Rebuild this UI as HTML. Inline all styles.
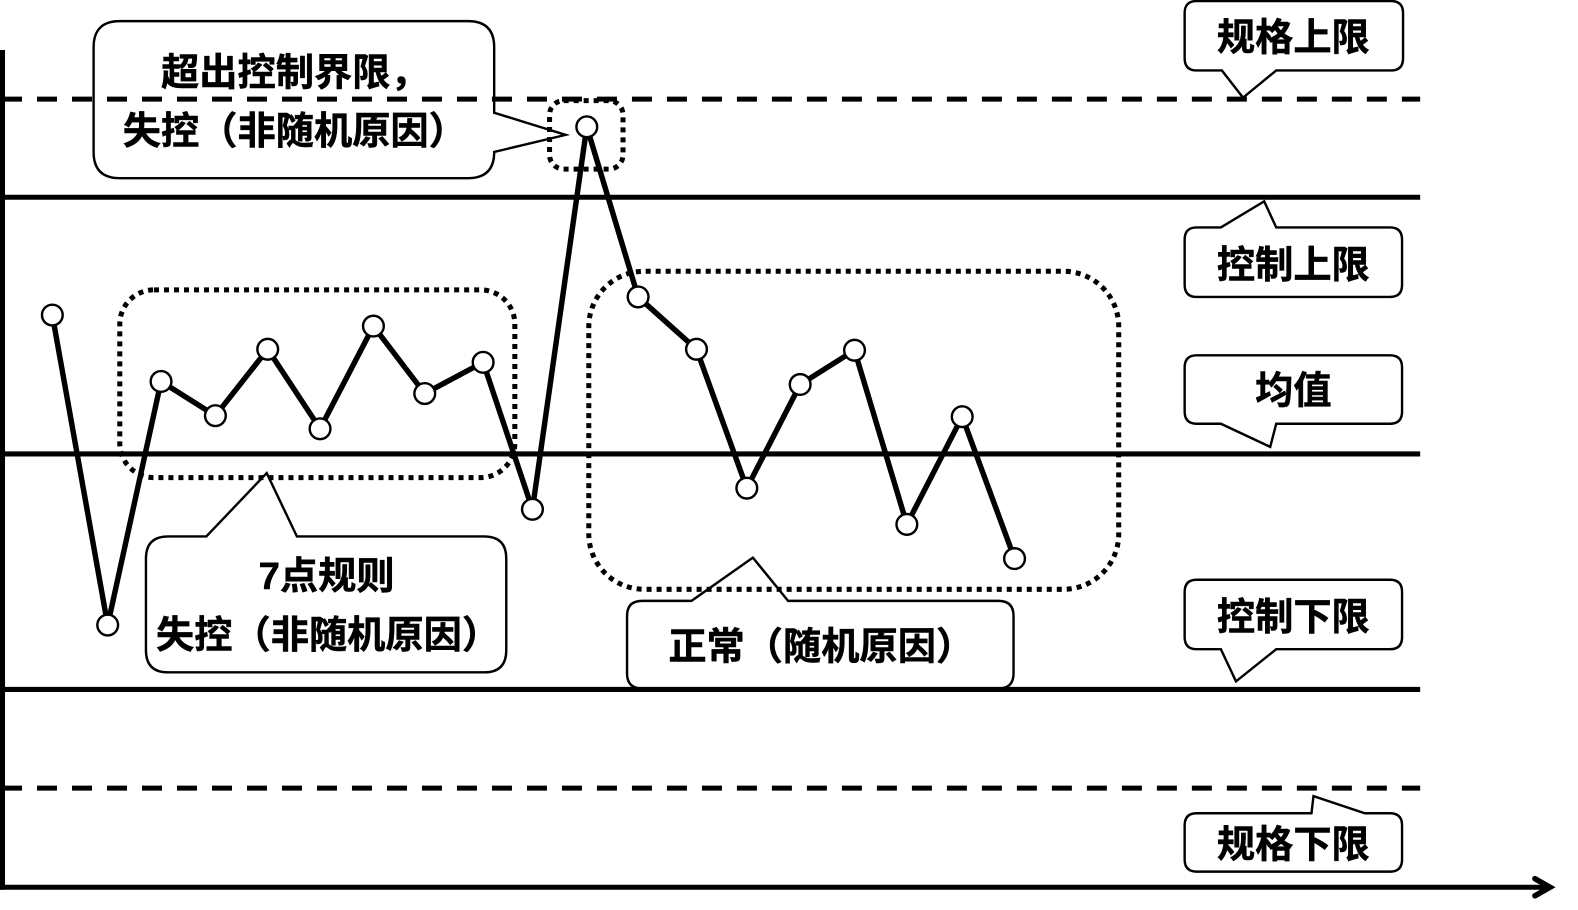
<!DOCTYPE html>
<html><head><meta charset="utf-8"><style>
html,body{margin:0;padding:0;background:#fff;width:1578px;height:910px;overflow:hidden}
svg{display:block}
text{font-family:"Liberation Sans","Noto Sans CJK SC",sans-serif;font-weight:700;fill:#000;stroke:#000;stroke-width:.5px;font-size:38px}
</style></head><body>
<svg width="1578" height="910" viewBox="0 0 1578 910">
<g transform="scale(1.0065)">
<g fill="none" stroke="#000">
<path d="M2.5 49.7V884" stroke-width="5"/>
<path d="M0 881.5H1538" stroke-width="5"/>
<path d="M1525 873L1540 881.5L1525 890" stroke-width="5.5" stroke-linecap="round" stroke-linejoin="miter"/>
<path d="M2 98.5H1411" stroke-width="5" stroke-dasharray="19.87 14.9"/>
<path d="M2 783H1411" stroke-width="5" stroke-dasharray="19.87 14.9"/>
<path d="M4 196H1411M4 451H1411M4 685H1411" stroke-width="5"/>
<rect x="119" y="288" width="392.5" height="186.5" rx="34" stroke-width="5" stroke-dasharray="4.97 4.97"/>
<rect x="585" y="269.5" width="526.5" height="316" rx="55" stroke-width="5" stroke-dasharray="4.97 4.97" stroke-dashoffset="-1.5"/>
<rect x="546" y="100" width="73" height="68" rx="14" stroke-width="5" stroke-dasharray="4.97 4.97"/>
<polyline points="52,313 107,621 160,379 214,413 266,347 318,426 371,324 422,391 480,360 529,506 583,126 634,295 692,347 742,485 795,382 849,348 901,521 956,414 1008,555" stroke-width="5.4" stroke-linejoin="round"/>
</g>
<g fill="#fff" stroke="#000" stroke-width="2.4">
<circle cx="52" cy="313" r="10.3"/><circle cx="107" cy="621" r="10.3"/><circle cx="160" cy="379" r="10.3"/><circle cx="214" cy="413" r="10.3"/><circle cx="266" cy="347" r="10.3"/><circle cx="318" cy="426" r="10.3"/><circle cx="371" cy="324" r="10.3"/><circle cx="422" cy="391" r="10.3"/><circle cx="480" cy="360" r="10.3"/><circle cx="529" cy="506" r="10.3"/><circle cx="583" cy="126" r="10.3"/><circle cx="634" cy="295" r="10.3"/><circle cx="692" cy="347" r="10.3"/><circle cx="742" cy="485" r="10.3"/><circle cx="795" cy="382" r="10.3"/><circle cx="849" cy="348" r="10.3"/><circle cx="901" cy="521" r="10.3"/><circle cx="956" cy="414" r="10.3"/><circle cx="1008" cy="555" r="10.3"/>
</g>
<g fill="none" stroke="#000" stroke-width="2.4">
<path d="M119 21H465Q491 21 491 47V112L562 134L491 151Q491 177 465 177H119Q93 177 93 151V47Q93 21 119 21Z"/>
<path d="M1189 1H1382Q1394 1 1394 13V58Q1394 70 1382 70H1268L1235 97L1214 70H1189Q1177 70 1177 58V13Q1177 1 1189 1Z"/>
<path d="M1189 226H1213L1256 200L1268 226H1381Q1393 226 1393 238V283Q1393 295 1381 295H1189Q1177 295 1177 283V238Q1177 226 1189 226Z"/>
<path d="M1189 353H1381Q1393 353 1393 365V409Q1393 421 1381 421H1268L1262 444L1213 421H1189Q1177 421 1177 409V365Q1177 353 1189 353Z"/>
<path d="M1189 576H1381Q1393 576 1393 588V633Q1393 645 1381 645H1268L1228 677L1213 645H1189Q1177 645 1177 633V588Q1177 576 1189 576Z"/>
<path d="M1189 808H1303L1305 791L1356 808H1381Q1393 808 1393 820V854Q1393 866 1381 866H1189Q1177 866 1177 854V820Q1177 808 1189 808Z"/>
<path d="M167 533H205L265 470L295 533H481Q503 533 503 555V646Q503 668 481 668H167Q145 668 145 646V555Q145 533 167 533Z"/>
<path d="M638 597H687L748 554L783 597H992Q1007 597 1007 612V669Q1007 684 992 684H638Q623 684 623 669V612Q623 597 638 597Z"/>
</g>
<text x="160" y="85">超出控制界限&#xFF0C;</text>
<text x="122" y="143">失控&#xFF08;非随机原因&#xFF09;</text>
<text x="1209" y="50">规格上限</text>
<text x="1209" y="276">控制上限</text>
<text x="1247" y="401">均值</text>
<text x="1209" y="626">控制下限</text>
<text x="1209" y="852">规格下限</text>
<text x="257" y="585">7点规则</text>
<text x="155" y="644">失控&#xFF08;非随机原因&#xFF09;</text>
<text x="664" y="655">正常&#xFF08;随机原因&#xFF09;</text>
</g>
</svg>
</body></html>
